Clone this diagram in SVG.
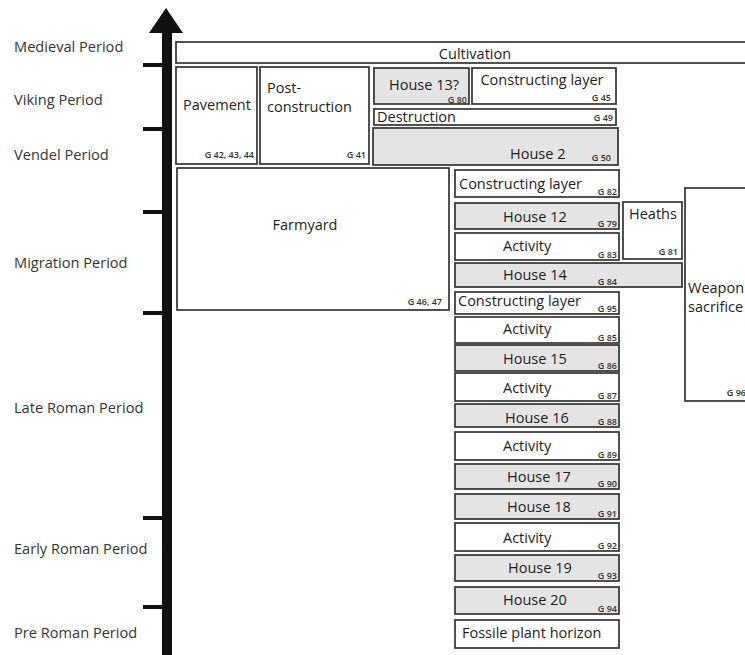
<svg xmlns="http://www.w3.org/2000/svg" width="745" height="655" viewBox="0 0 745 655">
<style>
.bg{fill:#ffffff}
.w{fill:#ffffff;stroke:#333333;stroke-width:1.7}
.g{fill:#e4e4e4;stroke:#333333;stroke-width:1.7}
.t{font-family:"Open Sans","Noto Sans",sans-serif;font-size:14.5px;font-weight:500;fill:#1e1e1e}
.s{font-family:"Open Sans","Noto Sans",sans-serif;font-size:9px;font-weight:600;fill:#333333;text-anchor:end}
.p{font-family:"Open Sans","Noto Sans",sans-serif;font-size:14.6px;font-weight:500;fill:#363636}
.c{text-anchor:middle}
.ax{fill:#111111}
</style>
<rect class="bg" x="0" y="0" width="745" height="655"/>
<g id="periods">
<text class="p" x="14" y="52">Medieval Period</text>
<text class="p" x="14" y="105">Viking Period</text>
<text class="p" x="14" y="160">Vendel Period</text>
<text class="p" x="14" y="268">Migration Period</text>
<text class="p" x="14" y="413">Late Roman Period</text>
<text class="p" x="14" y="554">Early Roman Period</text>
<text class="p" x="14" y="638">Pre Roman Period</text>
</g>
<g id="timeline">
<polygon class="ax" points="166,8 183,33 149,33"/>
<rect class="ax" x="162" y="30" width="10" height="625"/>
<rect class="ax" x="143" y="63" width="20" height="4"/>
<rect class="ax" x="143" y="127" width="20" height="4"/>
<rect class="ax" x="143" y="210" width="20" height="4"/>
<rect class="ax" x="143" y="311" width="20" height="4"/>
<rect class="ax" x="143" y="516" width="20" height="4"/>
<rect class="ax" x="143" y="605" width="20" height="4"/>
</g>
<g id="connectors"></g>
<g id="cultivation"><rect class="w" x="176" y="42" width="580" height="21"/><text class="t c" x="475" y="59">Cultivation</text></g>
<g id="pavement"><rect class="w" x="176" y="67" width="81" height="97"/><text class="t c" x="217" y="110">Pavement</text><text class="s" x="254" y="158">G 42, 43, 44</text></g>
<g id="post-construction"><rect class="w" x="260" y="67" width="109" height="97"/><text class="t" x="267" y="93">Post-</text><text class="t" x="267" y="112">construction</text><text class="s" x="366" y="158">G 41</text></g>
<g id="house13"><rect class="g" x="374" y="68" width="95" height="36"/><text class="t c" x="424" y="90">House 13?</text><text class="s" x="467" y="102.5">G 80</text></g>
<g id="constructing-g45"><rect class="w" x="472" y="68" width="144" height="36"/><text class="t c" x="542" y="85">Constructing layer</text><text class="s" x="611" y="101">G 45</text></g>
<g id="destruction"><rect class="w" x="374" y="109" width="242" height="16"/><text class="t" x="377" y="122">Destruction</text><text class="s" x="613" y="121">G 49</text></g>
<g id="house2"><rect class="g" x="373" y="128" width="245" height="37"/><text class="t" x="510" y="159">House 2</text><text class="s" x="611" y="161">G 50</text></g>
<g id="farmyard"><rect class="w" x="177" y="168" width="272" height="142"/><text class="t c" x="305" y="230">Farmyard</text><text class="s" x="442" y="305">G 46, 47</text></g>
<g id="heaths"><rect class="w" x="623" y="202" width="59" height="57"/><text class="t" x="629" y="219">Heaths</text><text class="s" x="678" y="255">G 81</text></g>
<g id="weapon-sacrifice"><rect class="w" x="685" y="188" width="80" height="213"/><text class="t" x="688" y="293">Weapon</text><text class="t" x="688" y="312">sacrifice</text><text class="s" x="746" y="396">G 96</text></g>
<g id="constructing-g82"><rect class="w" x="455" y="170" width="164" height="27"/><text class="t" x="459" y="189">Constructing layer</text><text class="s" x="617" y="195">G 82</text></g>
<g id="house12"><rect class="g" x="455" y="203" width="164" height="26"/><text class="t" x="503" y="222">House 12</text><text class="s" x="617" y="227">G 79</text></g>
<g id="activity-g83"><rect class="w" x="455" y="233" width="164" height="27"/><text class="t" x="503" y="251">Activity</text><text class="s" x="617" y="258">G 83</text></g>
<g id="house14"><rect class="g" x="455" y="263" width="227" height="24"/><text class="t" x="503" y="280">House 14</text><text class="s" x="617" y="285">G 84</text></g>
<g id="constructing-g95"><rect class="w" x="455" y="292" width="164" height="22"/><text class="t" x="458" y="306">Constructing layer</text><text class="s" x="617" y="312">G 95</text></g>
<g id="activity-g85"><rect class="w" x="455" y="317" width="164" height="26"/><text class="t" x="503" y="334">Activity</text><text class="s" x="617" y="341">G 85</text></g>
<g id="house15"><rect class="g" x="455" y="345" width="164" height="26"/><text class="t" x="503" y="364">House 15</text><text class="s" x="617" y="369">G 86</text></g>
<g id="activity-g87"><rect class="w" x="455" y="373" width="164" height="28"/><text class="t" x="503" y="393">Activity</text><text class="s" x="617" y="399">G 87</text></g>
<g id="house16"><rect class="g" x="455" y="404" width="164" height="23"/><text class="t" x="505" y="423">House 16</text><text class="s" x="617" y="425">G 88</text></g>
<g id="activity-g89"><rect class="w" x="455" y="432" width="164" height="28"/><text class="t" x="503" y="451">Activity</text><text class="s" x="617" y="458">G 89</text></g>
<g id="house17"><rect class="g" x="455" y="464" width="164" height="25"/><text class="t" x="507" y="482">House 17</text><text class="s" x="617" y="487">G 90</text></g>
<g id="house18"><rect class="g" x="455" y="494" width="164" height="25"/><text class="t" x="507" y="512">House 18</text><text class="s" x="617" y="517">G 91</text></g>
<g id="activity-g92"><rect class="w" x="455" y="523" width="164" height="28"/><text class="t" x="503" y="543">Activity</text><text class="s" x="617" y="549">G 92</text></g>
<g id="house19"><rect class="g" x="455" y="555" width="164" height="26"/><text class="t" x="508" y="573">House 19</text><text class="s" x="617" y="579">G 93</text></g>
<g id="house20"><rect class="g" x="455" y="587" width="164" height="27"/><text class="t" x="503" y="605">House 20</text><text class="s" x="617" y="612">G 94</text></g>
<g id="fossile"><rect class="w" x="455" y="620" width="164" height="28"/><text class="t" x="462" y="638">Fossile plant horizon</text></g>
</svg>
